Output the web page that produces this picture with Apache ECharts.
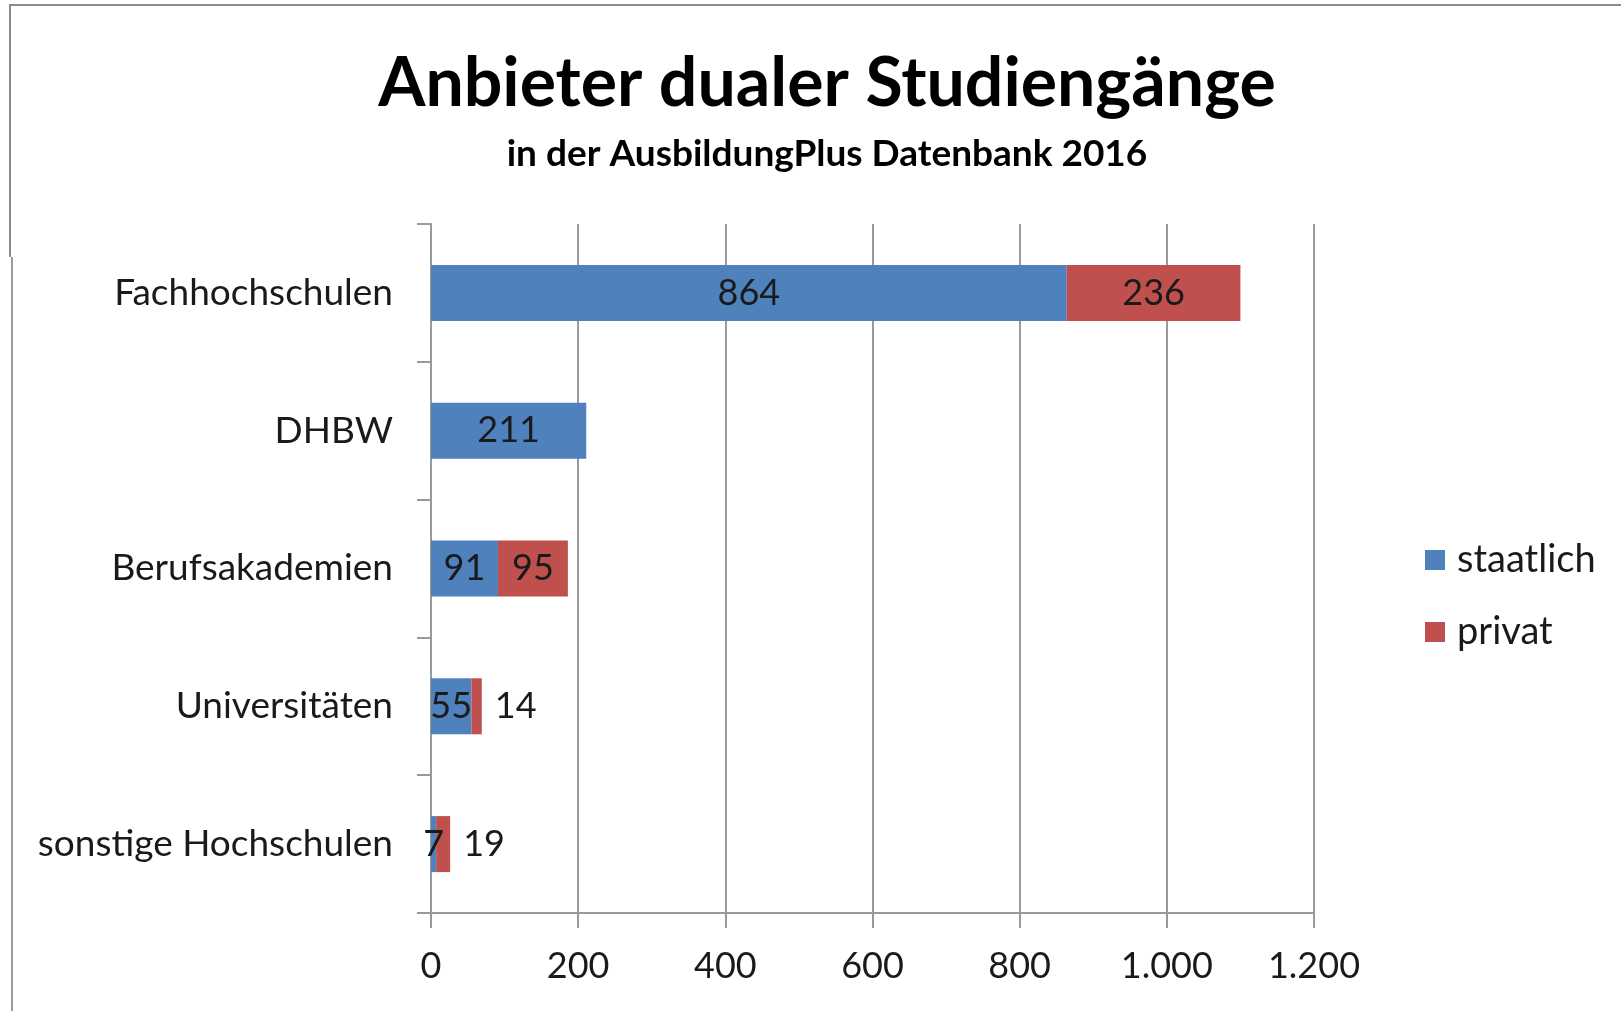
<!DOCTYPE html>
<html>
<head>
<meta charset="utf-8">
<script src="https://cdn.jsdelivr.net/npm/echarts@6/dist/echarts.min.js"></script>
<style>
html,body{margin:0;padding:0;background:#fff;}
#chart{width:1621px;height:1011px;}
</style>
</head>
<body>
<div id="chart"></div>
<script>
const categories = ['Fachhochschulen', 'DHBW', 'Berufsakademien', 'Universitäten', 'sonstige Hochschulen'];
const staatlich = [864, 211, 91, 55, 7];
const privat = [236, null, 95, 14, 19];
const xTicks = { min: 0, max: 1200, interval: 200 };

const FONT = 'Lato';
const TXT = '#1a1a1a';
const GRID = '#9a9a9a';

function fmt(v) {
  return String(v).replace(/\B(?=(\d{3})+(?!\d))/g, '.');
}

const chart = echarts.init(document.getElementById('chart'), null, { renderer: 'canvas' });
chart.setOption({
  backgroundColor: '#fff',
  animation: false,
  title: [
    {
      text: 'Anbieter dualer Studiengänge',
      left: 822, top: 45, textAlign: 'center',
      textStyle: { fontFamily: FONT, fontWeight: 'bold', fontSize: 68, color: '#000' }
    },
    {
      text: 'in der AusbildungPlus Datenbank 2016',
      left: 822, top: 131, textAlign: 'center',
      textStyle: { fontFamily: FONT, fontWeight: 'bold', fontSize: 37, color: '#000' }
    }
  ],
  legend: {
    orient: 'vertical',
    left: 1425, top: 541, padding: 0,
    itemWidth: 20, itemHeight: 20, itemGap: 34,
    icon: 'rect',
    textStyle: { fontFamily: FONT, fontSize: 38, color: TXT, padding: [0, 0, 0, 7] },
    data: ['staatlich', 'privat']
  },
  grid: { left: 431, right: 307, top: 224, bottom: 98, containLabel: false },
  xAxis: {
    type: 'value',
    min: xTicks.min, max: xTicks.max, interval: xTicks.interval,
    axisLine: { show: true, lineStyle: { color: GRID, width: 2 } },
    axisTick: { show: true, length: 15, lineStyle: { color: GRID, width: 2 } },
    splitLine: { show: true, lineStyle: { color: GRID, width: 2 } },
    axisLabel: { margin: 35, fontFamily: FONT, fontSize: 36, color: TXT, formatter: fmt }
  },
  yAxis: {
    type: 'category',
    inverse: true,
    data: categories,
    axisLine: { show: true, lineStyle: { color: GRID, width: 2 } },
    axisTick: { show: true, length: 14, lineStyle: { color: GRID, width: 2 } },
    splitLine: { show: false },
    axisLabel: { margin: 38, fontFamily: FONT, fontSize: 37, color: TXT }
  },
  series: [
    {
      name: 'staatlich', type: 'bar', stack: 'total', barWidth: 56,
      itemStyle: { color: '#4F81BD' },
      label: { show: true, position: 'inside', fontFamily: FONT, fontSize: 36, color: TXT },
      data: staatlich
    },
    {
      name: 'privat', type: 'bar', stack: 'total', barWidth: 56,
      itemStyle: { color: '#C0504D' },
      label: { show: true, position: 'inside', fontFamily: FONT, fontSize: 36, color: TXT },
      data: privat.map(v => v == null
        ? { value: null, label: { show: false } }
        : (v < 50 ? { value: v, label: { position: 'right', distance: 13 } } : v))
    }
  ],
  graphic: [
    { type: 'line', shape: { x1: 10, y1: 5, x2: 1621, y2: 5 }, style: { stroke: '#8a8a8a', lineWidth: 2 } },
    { type: 'line', shape: { x1: 10, y1: 4, x2: 10, y2: 257 }, style: { stroke: '#8a8a8a', lineWidth: 2 } },
    { type: 'line', shape: { x1: 12, y1: 257, x2: 12, y2: 1011 }, style: { stroke: '#9a9a9a', lineWidth: 2 } }
  ]
});
</script>
</body>
</html>
